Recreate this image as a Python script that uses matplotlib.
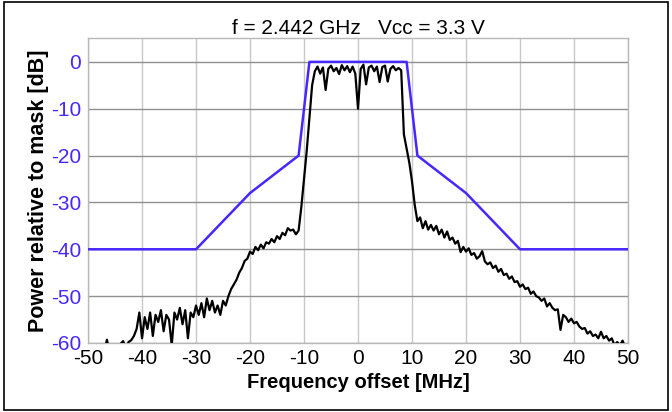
import numpy as np
import matplotlib
matplotlib.use('Agg')
import matplotlib.pyplot as plt
from matplotlib.patches import Rectangle

plt.rcParams['font.family'] = ['Liberation Sans', 'DejaVu Sans']
plt.rcParams['axes.unicode_minus'] = False

# spectral mask (MHz, dB)
mask_f = [-50, -30, -20, -11, -9, 9, 11, 20, 30, 50]
mask_db = [-40, -40, -28, -20, 0, 0, -20, -28, -40, -40]

# measured spectrum, 0.5 MHz steps from -50 to 50
freq = np.arange(-50, 50.25, 0.5)
power = [
    -63, -62.5, -64, -62, -61.5, -63, -61.8, -59.3, -62, -61,
    -62, -61, -60.2, -59.6, -61, -59.8, -59.4, -58.5, -57, -53.5,
    -59, -54.5, -57, -53.5, -58.5, -54, -55.5, -53, -57.5, -54,
    -55, -60.5, -53.5, -55, -52.5, -56, -53, -59, -53.5, -54.5,
    -52, -54, -51.5, -54.5, -50.5, -53, -51, -53.5, -52, -54,
    -51, -52, -50, -48.5, -47.5, -46.5, -45, -44, -42.5, -42,
    -40.5, -41, -39.5, -40.2, -39, -39.8, -38.5, -38.8, -37.8, -38.5,
    -37.2, -37.8, -36.5, -37, -35.5, -36, -35.8, -36.8, -36, -31,
    -25, -19, -12, -5, -2, -1, -2.5, -1.2, -6.0, -1.5,
    -0.8, -2, -1.3, -2.6, -0.7, -1.8, -0.9, -2.2, -1, -2.5,
    -10, -1.5, -0.6, -4.8, -1.2, -0.8, -2, -1, -4.3, -1.1,
    -0.8, -4.2, -1.5, -0.9, -1.8, -1.3, -1.8, -15.5, -18.5, -21.5,
    -25.5, -30.5, -34, -33.2, -35.5, -34, -35.8, -34.8, -36, -35,
    -36.8, -35.8, -37.5, -36.2, -38, -37.5, -38.8, -38.2, -40.6, -39.5,
    -40.5, -39.8, -41.2, -40.8, -42, -41.5, -40.4, -42.6, -43.2, -42.8,
    -44, -43.5, -44.8, -44.2, -45.5, -45.2, -46.3, -45.8, -47, -46.8,
    -48, -47.5, -48.5, -48.2, -49.5, -49, -50, -50.3, -51, -50.5,
    -52.2, -51.5, -52.5, -53, -52.8, -57.2, -54, -54.5, -55.5, -54.8,
    -55.8, -55.5, -56.5, -57, -56.8, -58, -57.5, -58.5, -58.2, -59,
    -57.6, -59, -58.5, -59.5, -59, -60.5, -59.8, -60.5, -59.5, -61,
    -61,
]

xticks = list(range(-50, 51, 10))
yticks = list(range(0, -61, -10))

blue = '#4628FF'

fig = plt.figure(figsize=(6.72, 4.12), dpi=100)
ax = fig.add_axes([0.131, 0.1675, 0.8035, 0.7403])

ax.plot(freq, power, color='black', lw=1.6, zorder=3)
ax.plot(mask_f, mask_db, color=blue, lw=1.8, zorder=4)

ax.set_xlim(-50, 50)
ax.set_ylim(-60, 5.1)
ax.set_xticks(xticks)
ax.set_yticks(yticks)
ax.tick_params(axis='both', length=0, labelsize=15)
ax.tick_params(axis='y', pad=5, labelcolor=blue)
ax.tick_params(axis='x', pad=4)

ax.grid(axis='x', color='#c8c8c8', lw=1)
ax.grid(axis='y', color='#909090', lw=1)
ax.set_axisbelow(True)
for s in ax.spines.values():
    s.set_color('#b8b8b8')
    s.set_linewidth(1)

ax.set_title('f = 2.442 GHz   Vcc = 3.3 V', fontsize=15, pad=2)
ax.set_xlabel('Frequency offset [MHz]', fontsize=14.5, fontweight='bold', labelpad=4)
ax.set_ylabel('Power relative to mask [dB]', fontsize=15.5, fontweight='bold', labelpad=1)

fig.patches.append(Rectangle((4 / 672, 2 / 412), 664 / 672, 408 / 412,
                             transform=fig.transFigure, fill=False,
                             edgecolor='black', lw=1.2))

fig.savefig('out.png', dpi=100)
